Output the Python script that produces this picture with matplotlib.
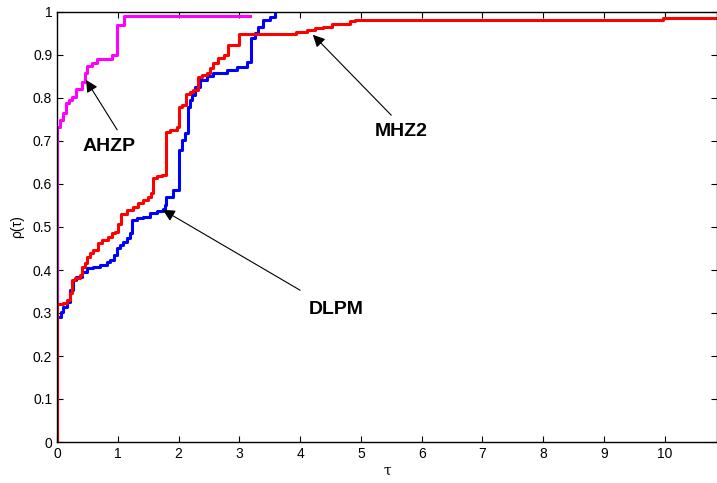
import numpy as np
import matplotlib
matplotlib.use("Agg")
import matplotlib.pyplot as plt

plt.rcParams['font.family'] = ['Liberation Sans', 'DejaVu Sans']

# performance profile steps: tau where the step starts, rho from there on
ahzp_tau = [0.0, 0.0, 0.05, 0.10, 0.14, 0.19, 0.24, 0.32, 0.41, 0.46, 0.50, 0.57, 0.65,
            0.90, 0.99, 1.10, 3.17]
ahzp_rho = [0.0, 0.733, 0.749, 0.764, 0.788, 0.795, 0.803, 0.822, 0.838, 0.857, 0.874, 0.881,
            0.890, 0.900, 0.970, 0.991, 0.991]

dlpm_tau = [0.0, 0.0, 0.06, 0.10, 0.16, 0.21, 0.27, 0.32, 0.41, 0.49, 0.60, 0.71, 0.82, 0.87,
            0.93, 0.98, 1.04, 1.09, 1.15, 1.20, 1.23, 1.31, 1.42, 1.53, 1.64, 1.75, 1.78, 1.80,
            1.91, 2.00, 2.05, 2.11, 2.16, 2.19, 2.22, 2.27, 2.35, 2.46, 2.57, 2.79, 2.96, 3.12,
            3.19, 3.26, 3.31, 3.39, 3.50, 3.59]
dlpm_rho = [0.0, 0.291, 0.303, 0.315, 0.326, 0.353, 0.377, 0.384, 0.396, 0.404, 0.408, 0.412,
            0.419, 0.423, 0.435, 0.450, 0.458, 0.466, 0.474, 0.485, 0.516, 0.520, 0.524, 0.532,
            0.538, 0.543, 0.551, 0.570, 0.586, 0.679, 0.702, 0.718, 0.780, 0.795, 0.807, 0.826,
            0.842, 0.850, 0.857, 0.865, 0.873, 0.884, 0.939, 0.950, 0.966, 0.981, 0.989, 1.0]

mhz2_tau = [0.0, 0.0, 0.10, 0.16, 0.21, 0.24, 0.30, 0.38, 0.41, 0.46, 0.49, 0.54, 0.60, 0.68,
            0.74, 0.84, 0.90, 0.95, 1.01, 1.06, 1.15, 1.25, 1.34, 1.42, 1.50, 1.55, 1.58, 1.64,
            1.72, 1.80, 1.86, 1.97, 2.00, 2.05, 2.13, 2.19, 2.24, 2.32, 2.38, 2.46, 2.52, 2.57,
            2.65, 2.74, 2.82, 3.00, 3.94, 4.11, 4.24, 4.38, 4.52, 4.82, 4.90, 9.97, 10.86]
mhz2_rho = [0.0, 0.320, 0.323, 0.330, 0.346, 0.377, 0.381, 0.388, 0.408, 0.416, 0.431, 0.439,
            0.447, 0.462, 0.470, 0.477, 0.485, 0.489, 0.508, 0.531, 0.540, 0.547, 0.555, 0.563,
            0.570, 0.578, 0.613, 0.619, 0.621, 0.722, 0.726, 0.733, 0.780, 0.784, 0.809, 0.815,
            0.819, 0.848, 0.853, 0.857, 0.869, 0.881, 0.892, 0.900, 0.923, 0.949, 0.954, 0.958,
            0.962, 0.966, 0.972, 0.978, 0.981, 0.987, 0.987]

fig = plt.figure(figsize=(7.17, 4.83), dpi=100)
ax = fig.add_axes([57 / 717, 1 - 442 / 483, 1 - 57 / 717, (442 - 12) / 483])

ax.step(ahzp_tau, ahzp_rho, where='post', color='#ff00ff', lw=2.2)
ax.step(dlpm_tau, dlpm_rho, where='post', color='#0000ff', lw=2.2)
ax.step(mhz2_tau, mhz2_rho, where='post', color='#ff0000', lw=2.2)

ax.set_xlim(0, 10.86)
ax.set_ylim(0, 1)
ax.set_xticks(range(0, 11))
ax.set_yticks(np.arange(0, 1.01, 0.1))
ax.set_yticklabels(['0', '0.1', '0.2', '0.3', '0.4', '0.5', '0.6', '0.7', '0.8', '0.9', '1'])
ax.tick_params(direction='in', top=True, right=True, length=4, width=0.8, labelsize=10)
for s in ax.spines.values():
    s.set_linewidth(1.0)

ax.set_xlabel(u'\u03c4', fontsize=10, labelpad=2, family='DejaVu Serif')
ax.set_ylabel(u'\u03c1(\u03c4)', fontsize=10, labelpad=6)

arrow = dict(arrowstyle='-|>', color='black', lw=0.8, mutation_scale=18, shrinkA=0, shrinkB=0)
ax.annotate('', xy=(0.477, 0.842), xytext=(0.99, 0.726), arrowprops=arrow)
ax.annotate('', xy=(1.74, 0.54), xytext=(4.0, 0.353), arrowprops=arrow)
ax.annotate('', xy=(4.21, 0.947), xytext=(5.5, 0.760), arrowprops=arrow)

ax.text(0.855, 0.688, 'AHZP', fontsize=14, fontweight='bold', ha='center', va='center')
ax.text(4.6, 0.309, 'DLPM', fontsize=14, fontweight='bold', ha='center', va='center')
ax.text(5.66, 0.723, 'MHZ2', fontsize=14, fontweight='bold', ha='center', va='center')

fig.savefig('out.png', dpi=100)
